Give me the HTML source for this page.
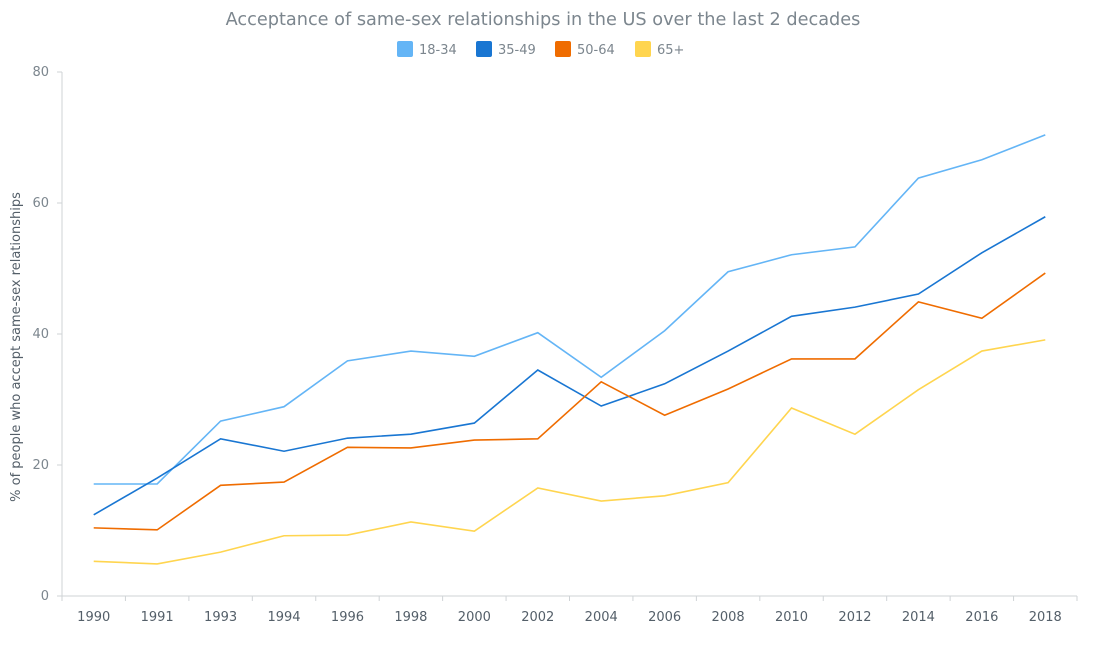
<!DOCTYPE html>
<html><head><meta charset="utf-8"><style>
body{margin:0;background:#fff;font-family:"DejaVu Sans",sans-serif;}
svg text{font-family:"DejaVu Sans",sans-serif;}
</style></head><body>
<svg id="chart" width="1095" height="641">
<text x="543" y="25" text-anchor="middle" font-size="17.7" fill="#7c868e">Acceptance of same-sex relationships in the US over the last 2 decades</text>
<g id="legend"></g>
<text transform="translate(20,347) rotate(-90)" text-anchor="middle" font-size="13" fill="#545f69">% of people who accept same-sex relationships</text>
<g id="axes"></g><g id="series"></g>
</svg>
<script>
const categories=["1990","1991","1993","1994","1996","1998","2000","2002","2004","2006","2008","2010","2012","2014","2016","2018"];
const seriesNames=["18-34","35-49","50-64","65+"];
const s1834=[17.1,17.1,26.7,28.9,35.9,37.4,36.6,40.2,33.4,40.5,49.5,52.1,53.3,63.8,66.6,70.4];
const s3549=[12.4,18,24,22.1,24.1,24.7,26.4,34.5,29,32.4,37.4,42.7,44.1,46.1,52.4,57.9];
const s5064=[10.4,10.1,16.9,17.4,22.7,22.6,23.8,24,32.7,27.6,31.6,36.2,36.2,44.9,42.4,49.3];
const s65=[5.3,4.9,6.7,9.2,9.3,11.3,9.9,16.5,14.5,15.3,17.3,28.7,24.7,31.5,37.4,39.1];
const yTicks=[0,20,40,60,80];
const colors=["#64b5f6","#1976d2","#ef6c00","#ffd54f"];
const NS="http://www.w3.org/2000/svg";
const L=62,R=1077,T=72,B=596,yMax=80;
const step=(R-L)/categories.length;
const x=i=>L+step*(i+0.5);
const y=v=>B-(v/yMax)*(B-T);
function mk(tag,at,parent){const e=document.createElementNS(NS,tag);for(const k in at)e.setAttribute(k,at[k]);parent.appendChild(e);return e;}
const axes=document.getElementById('axes');
let ya=mk('line',{x1:L,y1:T,x2:L,y2:B,stroke:"#cfd3d6"},axes);


let xa=mk('line',{x1:L,y1:B,x2:R,y2:B,stroke:"#cfd3d6"},axes);


yTicks.forEach(v=>{
 mk('line',{x1:L-5,y1:y(v),x2:L,y2:y(v),stroke:"#cfd3d6"},axes);
 const t=mk('text',{x:L-13,y:y(v)+4,"text-anchor":"end","font-size":"13",fill:"#7c868e"},axes);
 t.textContent=v;
 
 
});
for(let i=0;i<=categories.length;i++)mk('line',{x1:L+step*i,y1:B,x2:L+step*i,y2:B+5,stroke:"#cfd3d6"},axes);
categories.forEach((c,i)=>{
 const t=mk('text',{x:x(i),y:B+25,"text-anchor":"middle","font-size":"13",fill:"#545f69"},axes);
 t.textContent=c;
 
 
});
const data=[s1834,s3549,s5064,s65];
const sg=document.getElementById('series');
data.forEach((d,k)=>{
 const p=mk('polyline',{points:d.map((v,i)=>x(i)+","+y(v)).join(" "),fill:"none",stroke:colors[k],"stroke-width":"1.6"},sg);
 
 
});
const lg=document.getElementById('legend');
const lx=[397,476,555,635];
seriesNames.forEach((n,k)=>{
 const g=mk('g',{},lg);
 
 
 mk('rect',{x:lx[k],y:41,width:16,height:16,rx:2,fill:colors[k]},g);
 const t=mk('text',{x:lx[k]+22,y:54,"font-size":"13",fill:"#7c868e"},g);
 t.textContent=n;
});
</script>
</body></html>
